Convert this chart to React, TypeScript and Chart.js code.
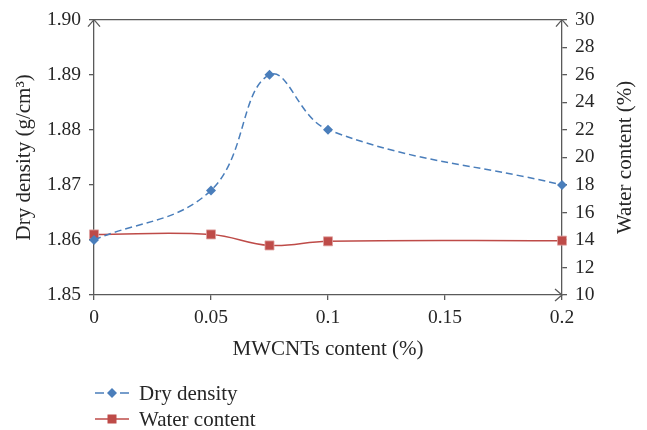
import React, { useEffect, useRef } from "react";
import { Chart, registerables } from "chart.js";

Chart.register(...registerables);

// ---- data ----
const mwcntContent = [0, 0.05, 0.075, 0.1, 0.2];
const dryDensity = [1.86, 1.869, 1.89, 1.88, 1.87];
const waterContent = [14.4, 14.4, 13.6, 13.9, 13.95];
const xTickValues = [0, 0.05, 0.1, 0.15, 0.2];
const leftTickValues = [1.85, 1.86, 1.87, 1.88, 1.89, 1.9];
const rightTickValues = [10, 12, 14, 16, 18, 20, 22, 24, 26, 28, 30];
const seriesNames = ["Dry density", "Water content"];
const rightTitle = "Water content (%)";

const FONT = '"Liberation Serif", "DejaVu Serif", serif';
const TEXT = "#262626";
const AXIS = "#5a5a5a";
const BLUE = "#4a7ebb";
const RED = "#be4b48";

const decorPlugin = {
  id: "decor",
  afterDraw(chart: any) {
    const { ctx, chartArea } = chart;
    const { left, right, top, bottom } = chartArea;
    ctx.save();
    ctx.strokeStyle = AXIS;
    ctx.lineWidth = 1.3;
    ctx.setLineDash([]);
    // top border
    ctx.beginPath();
    ctx.moveTo(left, top);
    ctx.lineTo(right, top);
    ctx.stroke();
    // arrows
    const a = 6, l = 7;
    ctx.beginPath();
    ctx.moveTo(left - a, top + l);
    ctx.lineTo(left, top);
    ctx.lineTo(left + a, top + l);
    ctx.moveTo(right - a, top + l);
    ctx.lineTo(right, top);
    ctx.lineTo(right + a, top + l);
    ctx.moveTo(right - l, bottom - a);
    ctx.lineTo(right, bottom);
    ctx.lineTo(right - l, bottom + a);
    ctx.stroke();

    // right axis title (reads bottom-to-top)
    ctx.save();
    ctx.translate(625, (top + bottom) / 2);
    ctx.rotate(-Math.PI / 2);
    ctx.font = `21px ${FONT}`;
    ctx.fillStyle = TEXT;
    ctx.textAlign = "center";
    ctx.textBaseline = "middle";
    ctx.fillText(rightTitle, 0, 0);
    ctx.restore();

    // legend
    const lx = 95, lw = 34;
    const rows = [393, 419];
    ctx.font = `21px ${FONT}`;
    ctx.textBaseline = "middle";
    ctx.textAlign = "left";
    chart.data.datasets.forEach((ds: any, i: number) => {
      const y = rows[i];
      ctx.strokeStyle = ds.borderColor;
      ctx.lineWidth = 1.5;
      if (i === 0) {
        ctx.beginPath();
        ctx.moveTo(lx, y);
        ctx.lineTo(lx + 9, y);
        ctx.moveTo(lx + lw - 9, y);
        ctx.lineTo(lx + lw, y);
        ctx.stroke();
        ctx.fillStyle = ds.backgroundColor;
        const cx = lx + lw / 2, r = 5;
        ctx.beginPath();
        ctx.moveTo(cx, y - r);
        ctx.lineTo(cx + r, y);
        ctx.lineTo(cx, y + r);
        ctx.lineTo(cx - r, y);
        ctx.closePath();
        ctx.fill();
      } else {
        ctx.beginPath();
        ctx.moveTo(lx, y);
        ctx.lineTo(lx + lw, y);
        ctx.stroke();
        ctx.fillStyle = ds.backgroundColor;
        const cx = lx + lw / 2, s = 4.5;
        ctx.fillRect(cx - s, y - s, 2 * s, 2 * s);
      }
      ctx.fillStyle = TEXT;
      ctx.fillText(ds.label, 139, y + 1);
    });
    ctx.restore();
  },
};

export default function App() {
  const ref = useRef<HTMLCanvasElement | null>(null);
  useEffect(() => {
    if (!ref.current) return;
    const tickFont = { family: FONT, size: 19.5 };
    const titleFont = { family: FONT, size: 21, lineHeight: 1.2 };
    const chart = new Chart(ref.current, {
      type: "line",
      data: {
        datasets: [
          {
            label: seriesNames[0],
            data: mwcntContent.map((x, i) => ({ x, y: dryDensity[i] })),
            yAxisID: "y",
            borderColor: BLUE,
            backgroundColor: BLUE,
            borderWidth: 1.5,
            borderDash: [7, 4],
            pointStyle: "rectRot",
            pointRadius: 5,
            pointBorderWidth: 0,
            tension: 0.4,
            clip: false,
          },
          {
            label: seriesNames[1],
            data: mwcntContent.map((x, i) => ({ x, y: waterContent[i] })),
            yAxisID: "y1",
            borderColor: RED,
            backgroundColor: RED,
            borderWidth: 1.5,
            pointStyle: "rect",
            pointRadius: 6.4,
            pointBorderWidth: 0.8,
            pointBorderColor: "#e0a3a2",
            tension: 0.4,
            clip: false,
          },
        ],
      },
      options: {
        animation: false,
        responsive: false,
        layout: { padding: { top: 17, left: 0, right: 0, bottom: 0 } },
        plugins: { legend: { display: false }, tooltip: { enabled: false } },
        scales: {
          x: {
            type: "linear",
            min: 0,
            max: 0.2,
            afterBuildTicks: (s: any) => {
              s.ticks = xTickValues.map((v) => ({ value: v }));
            },
            afterFit: (s: any) => {
              s.height = 135;
            },
            ticks: {
              font: tickFont,
              color: TEXT,
              padding: 6,
              maxRotation: 0,
              autoSkip: false,
              callback: (v: any) => String(v),
            },
            grid: { drawOnChartArea: false, tickLength: 5, color: AXIS, lineWidth: 1.3 },
            border: { display: true, color: AXIS, width: 1.3 },
            title: {
              display: true,
              text: "MWCNTs content (%)",
              font: titleFont,
              color: TEXT,
              padding: { top: 0, bottom: 68 },
            },
          },
          y: {
            type: "linear",
            position: "left",
            min: 1.85,
            max: 1.9,
            afterBuildTicks: (s: any) => {
              s.ticks = leftTickValues.map((v) => ({ value: v }));
            },
            afterFit: (s: any) => {
              s.width = 94;
            },
            ticks: {
              font: tickFont,
              color: TEXT,
              padding: 8,
              callback: (v: any) => Number(v).toFixed(2),
            },
            grid: { drawOnChartArea: false, tickLength: 5, color: AXIS, lineWidth: 1.3 },
            border: { display: true, color: AXIS, width: 1.3 },
            title: {
              display: true,
              text: "Dry density (g/cm³)",
              font: titleFont,
              color: TEXT,
              padding: { top: 12, bottom: 0 },
            },
          },
          y1: {
            type: "linear",
            position: "right",
            min: 10,
            max: 30,
            afterBuildTicks: (s: any) => {
              s.ticks = rightTickValues.map((v) => ({ value: v }));
            },
            afterFit: (s: any) => {
              s.width = 85;
            },
            ticks: {
              font: tickFont,
              color: TEXT,
              padding: 8,
              callback: (v: any) => String(v),
            },
            grid: { drawOnChartArea: false, tickLength: 5, color: AXIS, lineWidth: 1.3 },
            border: { display: true, color: AXIS, width: 1.3 },
            title: { display: false },
          },
        },
      },
      plugins: [decorPlugin],
    } as any);
    return () => chart.destroy();
  }, []);
  return (
    <div style={{ position: "fixed", left: 0, top: 0, width: 647, height: 430, background: "#fff" }}>
      <canvas ref={ref} width={647} height={430} style={{ width: 647, height: 430, display: "block" }} />
    </div>
  );
}
